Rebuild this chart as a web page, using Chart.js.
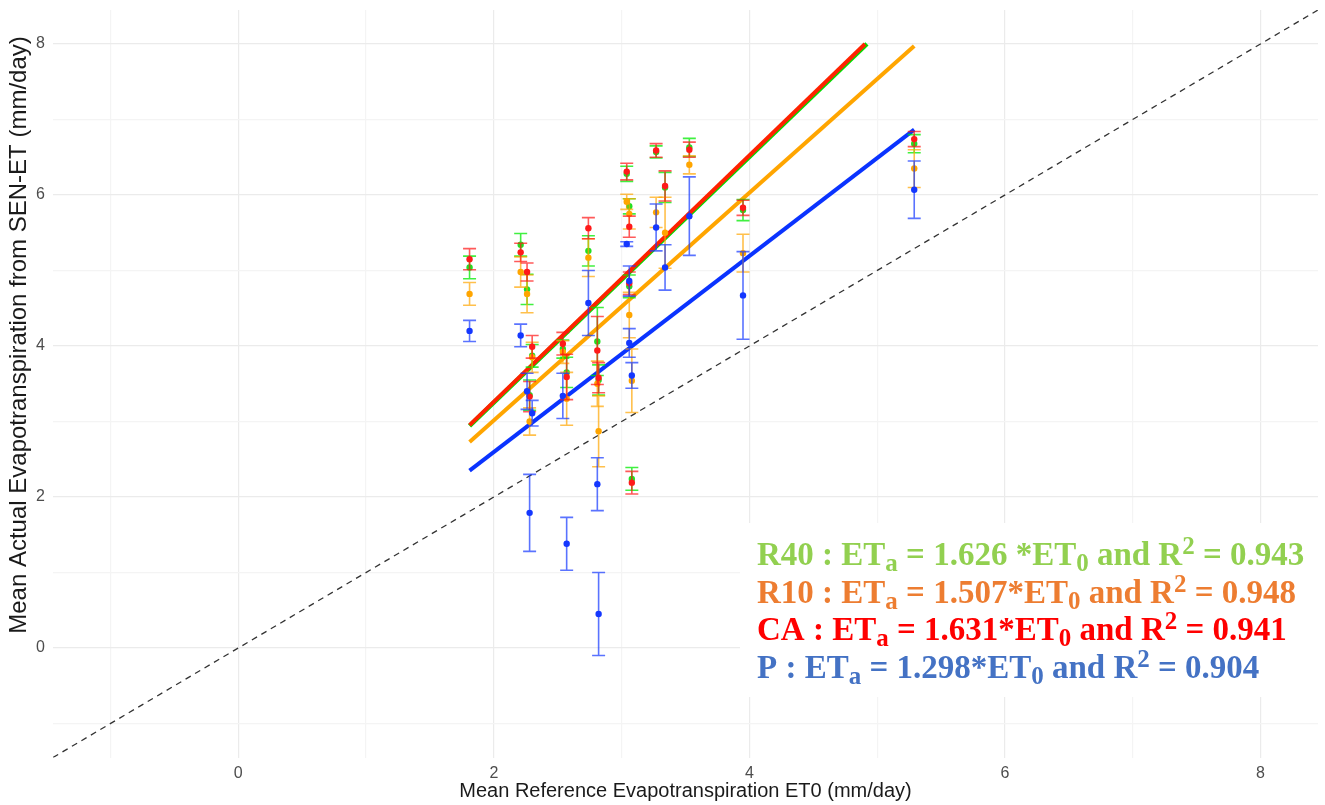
<!DOCTYPE html>
<html>
<head>
<meta charset="utf-8">
<script src="https://cdn.jsdelivr.net/npm/chart.js@4.4.1/dist/chart.umd.min.js"></script>
<style>
  html, body { margin: 0; padding: 0; background: #fff; }
  #wrap { width: 1325px; height: 805px; }
</style>
</head>
<body>
<div id="wrap"><canvas id="c"></canvas></div>
<script>
// mean reference ET0 per date (mm/day)
const et0 = [1.81, 2.21, 2.26, 2.30, 2.28, 2.54, 2.57, 2.74, 2.81, 2.82, 3.04, 3.06, 3.06, 3.08, 3.27, 3.34, 3.53, 3.95, 5.29];

// mean actual ET per treatment and its standard deviation
const r40 = [5.04, 5.34, 4.75, 3.87, 3.35, 3.96, 3.65, 5.26, 4.06, 3.55, 6.28, 5.85, 4.79, 2.24, 6.57, 6.10, 6.63, 5.80, 6.68];
const r40Sd = [0.15, 0.15, 0.2, 0.15, 0.2, 0.12, 0.2, 0.2, 0.45, 0.2, 0.1, 0.1, 0.15, 0.15, 0.08, 0.2, 0.12, 0.14, 0.12];
const r10 = [4.69, 4.98, 4.69, 3.85, 3.0, 3.92, 3.3, 5.17, 3.5, 2.87, 5.91, 5.75, 4.41, 3.54, 5.77, 5.5, 6.40, 5.23, 6.35];
const r10Sd = [0.15, 0.2, 0.25, 0.2, 0.18, 0.15, 0.35, 0.25, 0.3, 0.47, 0.1, 0.2, 0.3, 0.42, 0.2, 0.47, 0.12, 0.25, 0.25];
const ca = [5.15, 5.24, 4.98, 3.99, 3.33, 4.03, 3.59, 5.56, 3.94, 3.58, 6.31, 5.58, 4.83, 2.19, 6.59, 6.12, 6.60, 5.83, 6.74];
const caSd = [0.14, 0.12, 0.12, 0.15, 0.2, 0.15, 0.3, 0.14, 0.45, 0.2, 0.11, 0.14, 0.15, 0.15, 0.09, 0.2, 0.1, 0.1, 0.1];
const p = [4.20, 4.14, 3.40, 3.11, 1.79, 3.34, 1.38, 4.57, 2.17, 0.45, 5.35, 4.86, 4.04, 3.61, 5.57, 5.04, 5.72, 4.67, 6.07];
const pSd = [0.14, 0.15, 0.24, 0.17, 0.51, 0.3, 0.35, 0.43, 0.35, 0.55, 0.03, 0.2, 0.19, 0.17, 0.31, 0.3, 0.52, 0.58, 0.38];

// fitted slopes (through origin) and R2
const fitNames = ['R40', 'R10', 'CA', 'P'];
const slopes = [1.626, 1.507, 1.631, 1.298];
const slopeText = ['1.626 ', '1.507', '1.631', '1.298'];
const r2 = ['0.943', '0.948', '0.941', '0.904'];

const axisMin = -1.45;
const axisMax = 8.45;
const gridValues = [-1, 0, 1, 2, 3, 4, 5, 6, 7, 8];
const tickLabels = [0, 2, 4, 6, 8];
const lineCap = 8;

const yTitle = 'Mean Actual Evapotranspiration from SEN-ET (mm/day)';

const toPoints = (ys) => et0.map((x, i) => ({x: x, y: ys[i]}));

const fitLine = (s) => {
    const x0 = Math.min(...et0);
    const x1 = Math.min(Math.max(...et0), lineCap / s);
    return [{x: x0, y: s * x0}, {x: x1, y: s * x1}];
};

const pointSet = (label, ys, sd, color, barColor) => ({
    type: 'scatter',
    label: label,
    data: toPoints(ys),
    errors: sd,
    errorColor: barColor,
    backgroundColor: color,
    borderColor: color,
    pointRadius: 3.2,
    borderWidth: 0
});

const lineSet = (label, s, color, width) => ({
    type: 'line',
    label: label,
    data: fitLine(s),
    borderColor: color,
    borderWidth: width,
    pointRadius: 0,
    fill: false
});

const errorBars = {
    id: 'errorBars',
    beforeDatasetDraw(chart, args) {
        const ds = chart.data.datasets[args.index];
        if (!ds.errors) return;
        const ctx = chart.ctx;
        const xs = chart.scales.x, ys = chart.scales.y;
        ctx.save();
        ctx.strokeStyle = ds.errorColor;
        ctx.lineWidth = 1.6;
        ds.data.forEach((pt, i) => {
            const e = ds.errors[i];
            const px = xs.getPixelForValue(pt.x);
            const top = ys.getPixelForValue(pt.y + e);
            const bot = ys.getPixelForValue(pt.y - e);
            ctx.beginPath();
            ctx.moveTo(px, top); ctx.lineTo(px, bot);
            ctx.moveTo(px - 6.5, top); ctx.lineTo(px + 6.5, top);
            ctx.moveTo(px - 6.5, bot); ctx.lineTo(px + 6.5, bot);
            ctx.stroke();
        });
        ctx.restore();
    }
};

// equations box in the lower right corner, plus the y title
const textColors = ['#92D050', '#ED7D31', '#FF0000', '#4472C4'];
const eqBox = {
    id: 'eqBox',
    beforeDatasetsDraw(chart) {
        const ctx = chart.ctx, a = chart.chartArea;
        ctx.save();
        ctx.fillStyle = '#ffffff';
        ctx.fillRect(740, 523, a.right - 740, 174);
        ctx.restore();
    },
    afterDraw(chart) {
        const ctx = chart.ctx;
        const big = 'bold 33px "Liberation Serif", "Times New Roman", serif';
        const small = 'bold 25px "Liberation Serif", "Times New Roman", serif';
        ctx.save();
        ctx.textBaseline = 'alphabetic';
        fitNames.forEach((name, i) => {
            const parts = [
                [name + ' : ET', 0], ['a', 1], [' = ' + slopeText[i] + '*ET', 0], ['0', 1],
                [' and R', 0], ['2', -1], [' = ' + r2[i], 0]
            ];
            let x = 757;
            const base = 565 + i * 37.5;
            ctx.fillStyle = textColors[i];
            parts.forEach(([t, k]) => {
                ctx.font = k === 0 ? big : small;
                const dy = k === 1 ? 6 : (k === -1 ? -11 : 0);
                ctx.fillText(t, x, base + dy);
                x += ctx.measureText(t).width;
            });
        });
        ctx.restore();

        ctx.save();
        ctx.translate(19, 335);
        ctx.rotate(-Math.PI / 2);
        ctx.font = '24px "Liberation Sans", Arial, sans-serif';
        ctx.fillStyle = '#1a1a1a';
        ctx.textAlign = 'center';
        ctx.textBaseline = 'middle';
        ctx.fillText(yTitle, 0, 0);
        ctx.restore();
    }
};

const gridColor = (c) => (c.tick && c.tick.value % 2 === 0) ? '#ebebeb' : '#f4f4f4';

const ctx = document.getElementById('c').getContext('2d');
const chart = new Chart(ctx, {
    type: 'scatter',
    data: {
        datasets: [
            pointSet('P', p, pSd, '#1437ff', 'rgba(20,55,255,0.7)'),
            pointSet('CA', ca, caSd, '#ff1a1a', 'rgba(255,20,20,0.7)'),
            pointSet('R10', r10, r10Sd, '#ffa500', 'rgba(255,165,0,0.7)'),
            pointSet('R40', r40, r40Sd, '#22e022', 'rgba(0,235,0,0.75)'),
            lineSet('P fit', slopes[3], '#0a33ff', 4),
            lineSet('R10 fit', slopes[1], '#ffa500', 4),
            lineSet('CA fit', slopes[2], '#ff2200', 4),
            lineSet('R40 fit', slopes[0], '#00dd00', 4.5),
            {
                type: 'line',
                label: '1:1',
                data: [{x: axisMin, y: axisMin}, {x: axisMax, y: axisMax}],
                borderColor: '#333333',
                borderWidth: 1.3,
                borderDash: [6, 5],
                pointRadius: 0
            }
        ]
    },
    options: {
        responsive: true,
        maintainAspectRatio: false,
        devicePixelRatio: 1,
        animation: false,
        layout: {padding: {top: 10, right: 7, left: 0, bottom: 0}},
        plugins: {legend: {display: false}, tooltip: {enabled: false}},
        scales: {
            x: {
                type: 'linear',
                min: axisMin,
                max: axisMax,
                afterBuildTicks: (s) => { s.ticks = gridValues.map(v => ({value: v})); },
                afterFit: (s) => { s.height = 47.5; s.paddingLeft = 0; s.paddingRight = 0; },
                border: {display: false},
                grid: {color: gridColor, lineWidth: 1.2, drawTicks: false},
                ticks: {
                    autoSkip: false,
                    maxRotation: 0,
                    padding: 6,
                    color: '#4d4d4d',
                    font: {family: '"Liberation Sans", Arial, sans-serif', size: 16},
                    callback: (v) => tickLabels.includes(v) ? String(v) : ''
                },
                title: {
                    display: true,
                    text: 'Mean Reference Evapotranspiration ET0 (mm/day)',
                    color: '#1a1a1a',
                    padding: {top: 0, bottom: 2},
                    font: {family: '"Liberation Sans", Arial, sans-serif', size: 20}
                }
            },
            y: {
                type: 'linear',
                min: axisMin,
                max: axisMax,
                afterBuildTicks: (s) => { s.ticks = gridValues.map(v => ({value: v})); },
                afterFit: (s) => { s.width = 53; s.paddingTop = 0; s.paddingBottom = 0; },
                border: {display: false},
                grid: {color: gridColor, lineWidth: 1.2, drawTicks: false},
                ticks: {
                    autoSkip: false,
                    padding: 8,
                    color: '#4d4d4d',
                    font: {family: '"Liberation Sans", Arial, sans-serif', size: 16},
                    callback: (v) => tickLabels.includes(v) ? String(v) : ''
                },
                title: {display: false}
            }
        }
    },
    plugins: [errorBars, eqBox]
});
</script>
</body>
</html>
